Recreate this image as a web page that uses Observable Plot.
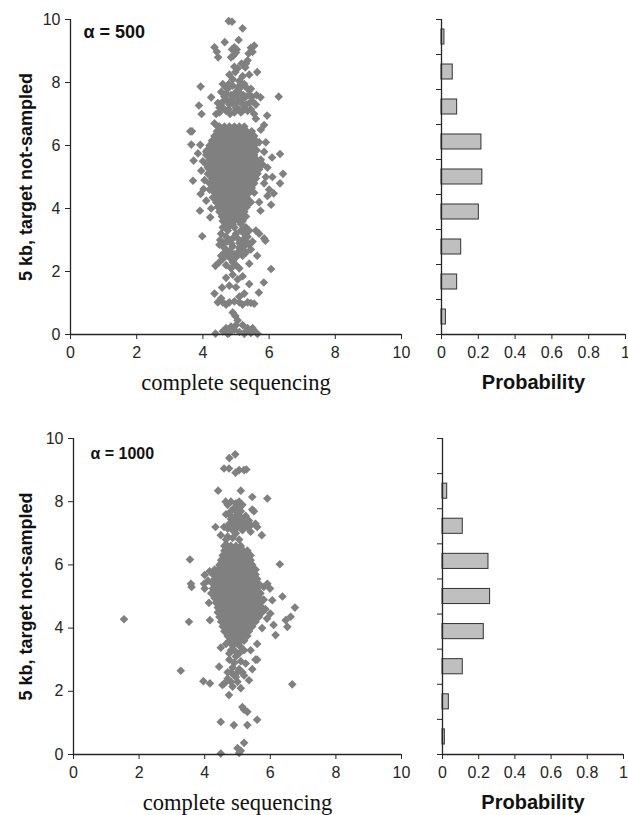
<!DOCTYPE html>
<html>
<head>
<meta charset="utf-8">
<script src="https://cdn.jsdelivr.net/npm/d3@7"></script>
<script src="https://cdn.jsdelivr.net/npm/@observablehq/plot@0.6"></script>
<style>
  body { margin: 0; background: #fff; }
  #wrap { position: relative; width: 628px; height: 815px; background: #fff; overflow: hidden; }
  #wrap > svg { position: absolute; }
</style>
</head>
<body>
<div id="wrap"></div>
<script>
// ---------- DATA ----------
const panelLabels = ["α = 500", "α = 1000"];
const xTitle = "complete sequencing";
const yTitle = "5 kb, target not-sampled";
const histTitle = "Probability";
const scatterTicks = [0, 2, 4, 6, 8, 10];
const probTicks = [0, 0.2, 0.4, 0.6, 0.8, 1];
const binEdges = [0, 1, 2, 3, 4, 5, 6, 7, 8, 9];

// histogram probabilities, listed top bar to bottom bar
const prob500 = [0.016, 0.061, 0.085, 0.217, 0.222, 0.203, 0.107, 0.085, 0.024];
const prob1000 = [0, 0.026, 0.112, 0.254, 0.263, 0.228, 0.112, 0.035, 0.013];

// alpha = 500: scattered points [x, y]
const sparse500 = [
  [4.78,9.95],[4.88,9.93],[5.2,9.72],[5.08,9.35],[4.66,9.28],[4.35,9.12],[4.42,8.98],[4.46,8.8],
  [4.88,9.05],[4.95,9.12],[5.0,8.95],[4.92,8.85],[5.02,9.05],[5.38,8.92],[5.5,8.97],[5.55,9.17],
  [5.45,9.1],[5.35,8.7],[4.85,8.8],[4.98,8.33],[5.05,8.45],[5.17,8.6],[5.3,8.6],[5.28,8.48],
  [5.2,8.2],[5.4,8.25],[5.64,8.33],[4.9,8.1],[5.1,8.05],[4.95,8.5],[4.8,8.25],
  [3.93,7.87],[4.25,7.53],[3.88,7.27],[3.96,7.0],[6.29,7.55],[5.74,7.53],[4.6,7.95],[4.75,7.8],
  [4.85,7.6],[4.9,7.9],[5.0,7.7],[5.1,7.5],[5.2,7.3],[5.3,7.55],[5.4,7.6],[5.5,7.4],[4.55,7.35],
  [4.7,7.1],[4.8,7.3],[4.5,7.05],[4.65,7.55],[5.0,7.2],[5.15,7.85],[5.35,7.1],[5.55,7.0],[5.6,7.3],
  [4.4,7.0],[4.45,7.35],[5.25,7.95],[5.45,7.8],[4.95,7.05],[5.62,7.6],[4.72,7.45],[5.05,7.4],
  [5.25,7.15],[4.6,7.2],[4.9,7.35],[5.4,7.35],[5.15,7.05],[4.82,7.0],
  [4.55,7.7],[4.68,7.85],[4.78,7.95],[4.95,7.6],[5.05,7.85],[5.12,7.65],[5.22,7.6],[5.35,7.8],
  [5.48,7.55],[4.62,7.4],[4.78,7.15],[4.88,7.45],[5.08,7.15],[5.18,7.45],[5.3,7.3],[5.45,7.15],
  [4.5,7.2],[4.7,7.65],
  [5.94,6.95],[5.6,6.85],[4.35,6.7],[4.45,6.6],[5.85,6.65],
  [3.62,6.45],[3.67,6.45],[3.65,6.03],[3.72,5.52],[3.7,4.88],[3.93,4.46],[3.91,3.93],[3.98,3.12],
  [4.22,3.72],[3.92,6.02],[4.0,5.5],[4.1,5.8],[4.15,5.3],[4.05,4.9],[4.2,4.6],[3.95,5.2],[4.1,4.25],
  [4.25,4.0],[4.02,4.62],[3.85,5.75],
  [6.33,5.73],[6.42,5.1],[6.33,4.8],[6.14,4.48],[6.09,5.62],[6.06,4.12],[5.74,3.93],[5.89,2.98],
  [5.64,2.5],[6.06,2.08],[5.84,1.65],[5.69,1.33],[5.95,5.3],[5.9,5.0],[5.85,4.8],[5.8,5.4],[6.0,4.6],
  [5.75,6.5],[5.9,6.1],[5.7,6.1],[5.85,5.8],[5.7,4.2],[5.6,3.3],[5.7,3.2],[5.85,3.05],[6.1,5.0],[5.95,4.4],
  [4.38,2.18],[4.5,2.3],[4.6,2.4],[4.75,2.5],[4.9,2.3],[5.0,2.2],[5.2,2.5],[5.4,2.25],[5.3,2.6],
  [4.6,2.9],[4.7,3.1],[4.8,3.0],[4.9,2.8],[5.0,3.2],[5.1,2.9],[5.2,3.0],[5.35,3.1],[5.5,2.95],
  [4.55,3.2],[4.65,2.6],[4.8,2.65],[5.05,2.6],[4.95,3.4],[5.15,3.3],[5.3,3.4],[4.5,2.85],[5.45,2.7],
  [5.1,2.1],[4.85,2.1],[4.7,2.2],[5.25,2.8],[4.6,3.4],[4.75,3.3],[5.4,3.3],[4.9,3.05],[5.0,2.45],
  [4.55,2.5],[4.65,2.75],[4.72,2.95],[4.85,2.9],[4.95,2.55],[5.1,2.75],[5.2,2.7],[5.3,2.95],
  [4.8,3.45],[5.05,3.05],[5.15,3.5],[4.68,3.55],[4.9,3.5],[4.52,3.0],[5.4,2.85],[5.25,3.2],[4.85,2.4],
  [4.35,1.3],[4.58,1.49],[4.7,1.8],[4.9,1.9],[5.2,1.85],[5.4,1.6],[5.0,1.5],[5.1,1.2],[5.25,1.3],
  [4.8,1.55],[5.45,1.0],[4.45,1.02],[4.6,1.02],[4.8,1.02],[5.1,1.02],[5.35,1.02],[4.95,1.05],
  [5.55,0.98],[4.7,0.95],[5.2,0.95],[5.05,1.75],[4.55,1.15],
  [4.38,0.03],[4.6,0.1],[4.8,0.05],[4.95,0.15],[5.1,0.08],[5.3,0.1],[5.45,0.05],[5.65,0.02],
  [5.0,0.3],[4.85,0.25],[5.2,0.3],[5.35,0.2],[4.98,0.59],[4.9,0.7],[4.7,0.2],[5.5,0.2],[5.05,0.45],
  [4.75,0.02],[5.25,0.02],[5.55,0.12]
];
// alpha = 500: dense core, rows of [y, x values]
const core500 = [
  [6.6, [4.5,4.65,4.8,4.95,5.1,5.25]],
  [6.45,[4.425,4.575,4.725,4.875,5.025,5.175,5.325,5.475]],
  [6.3, [4.35,4.5,4.65,4.8,4.95,5.1,5.25,5.4,5.55]],
  [6.15,[4.275,4.425,4.575,4.725,4.875,5.025,5.175,5.325,5.475,5.6]],
  [6.0, [4.2,4.35,4.5,4.65,4.8,4.95,5.1,5.25,5.4,5.55]],
  [5.85,[4.125,4.275,4.425,4.575,4.725,4.875,5.025,5.175,5.325,5.475,5.625]],
  [5.7, [4.1,4.2,4.35,4.5,4.65,4.8,4.95,5.1,5.25,5.4,5.55]],
  [5.55,[4.2,4.275,4.425,4.575,4.725,4.875,5.025,5.175,5.325,5.475,5.625,5.75]],
  [5.4, [4.1,4.2,4.35,4.5,4.65,4.8,4.95,5.1,5.25,5.4,5.55,5.65]],
  [5.25,[4.2,4.275,4.425,4.575,4.725,4.875,5.025,5.175,5.325,5.475,5.625,5.7]],
  [5.1, [4.15,4.2,4.35,4.5,4.65,4.8,4.95,5.1,5.25,5.4,5.55,5.65]],
  [4.95,[4.275,4.425,4.575,4.725,4.875,5.025,5.175,5.325,5.475,5.6]],
  [4.8, [4.2,4.35,4.5,4.65,4.8,4.95,5.1,5.25,5.4,5.55]],
  [4.65,[4.3,4.425,4.575,4.725,4.875,5.025,5.175,5.325,5.475]],
  [4.5, [4.35,4.5,4.65,4.8,4.95,5.1,5.25,5.4,5.55]],
  [4.35,[4.3,4.425,4.575,4.725,4.875,5.025,5.175,5.325]],
  [4.2, [4.4,4.5,4.65,4.8,4.95,5.1,5.25,5.4,5.45]],
  [4.05,[4.45,4.575,4.725,4.875,5.025,5.175,5.325]],
  [3.9, [4.5,4.65,4.8,4.95,5.1,5.25]],
  [3.75,[4.575,4.725,4.875,5.025,5.175,5.3]],
  [3.6, [4.6,4.65,4.8,4.95,5.1,5.2]]
];

// alpha = 1000: scattered points [x, y]
const sparse1000 = [
  [4.75,9.38],[4.93,9.5],[4.59,9.05],[4.74,9.05],[4.94,8.92],[5.05,9.0],[5.2,9.0],[5.27,9.02],
  [4.41,8.35],[5.1,8.35],[5.45,8.15],[5.91,8.1],[4.64,8.0],[4.95,7.95],[5.05,8.0],[5.0,7.85],
  [5.45,7.75],[5.5,7.7],[4.33,7.2],[4.59,7.2],[5.74,6.94],[5.6,7.2],[5.55,7.3],[5.3,7.2],[5.4,7.05],
  [4.49,6.94],[4.7,6.9],
  [4.7,7.9],[4.8,7.7],[4.9,7.5],[5.0,7.6],[5.1,7.4],[4.75,7.3],[4.85,7.1],[5.0,7.2],[5.15,7.1],
  [5.2,7.5],[4.65,7.6],[4.9,7.8],[5.05,7.3],[4.95,7.0],[5.25,7.3],[4.8,7.45],[5.1,7.7],[4.7,7.15],
  [5.35,7.4],[4.85,6.85],[5.05,6.8],[4.6,6.6],[4.65,6.8],
  [4.75,7.6],[4.95,7.4],[5.15,7.25],[5.25,7.55],[4.85,7.25],[5.05,7.55],[5.4,7.25],[4.95,7.7],
  [5.15,7.9],[4.8,8.0],
  [3.55,6.17],[3.58,5.4],[3.6,5.3],[3.52,4.2],[3.98,5.4],[4.0,5.25],[4.13,4.8],[4.16,4.25],
  [4.0,5.68],[4.15,5.8],[4.25,5.7],[4.2,5.1],[4.1,5.5],[1.54,4.28],[3.27,2.65],[3.96,2.32],
  [4.16,2.25],[4.3,5.85],[4.35,5.2],
  [6.29,6.02],[5.91,5.4],[5.99,5.25],[6.06,4.88],[6.0,4.46],[6.37,5.0],[6.47,4.25],[6.52,4.04],
  [6.62,4.36],[6.75,4.65],[6.16,3.78],[6.67,2.22],[5.8,5.3],[5.85,4.6],[5.9,4.3],[5.75,4.0],
  [5.6,3.5],[5.55,3.0],[5.6,3.0],[5.4,3.3],[5.45,2.7],[5.8,4.9],[5.7,5.1],[6.1,4.1],
  [4.49,3.38],[4.44,2.78],[4.54,2.2],[4.74,1.88],[5.1,2.1],[5.35,2.35],[5.25,2.88],[4.6,2.25],
  [4.8,2.3],[4.9,2.5],[5.0,2.3],[4.7,2.6],[5.2,2.5],[4.85,2.75],[5.05,2.7],[4.75,3.0],[4.95,3.1],
  [5.1,2.95],[4.8,3.3],[5.0,3.5],[4.65,3.5],[5.2,3.3],[4.9,2.9],[5.15,2.6],[4.7,2.4],[4.85,2.15],
  [4.75,3.2],[4.9,3.3],[5.05,3.2],[4.8,2.6],[5.0,2.6],[5.1,3.4],[4.95,2.45],[4.85,3.45],
  [4.49,1.03],[4.89,0.93],[5.15,1.5],[5.2,1.42],[5.3,1.35],[5.6,1.1],[5.3,0.93],[5.0,0.2],
  [5.1,0.12],[5.2,0.37],[4.49,0.03],[5.05,0.05]
];
// alpha = 1000: dense core, rows of [y, x values]
const core1000 = [
  [6.6, [4.7,4.8,4.95,5.1]],
  [6.45,[4.6,4.725,4.875,5.025,5.175,5.3]],
  [6.3, [4.55,4.65,4.8,4.95,5.1,5.25,5.4]],
  [6.15,[4.5,4.575,4.725,4.875,5.025,5.175,5.325,5.4]],
  [6.0, [4.45,4.5,4.65,4.8,4.95,5.1,5.25,5.4,5.45]],
  [5.85,[4.4,4.425,4.575,4.725,4.875,5.025,5.175,5.325,5.475,5.55]],
  [5.7, [4.35,4.5,4.65,4.8,4.95,5.1,5.25,5.4,5.55]],
  [5.55,[4.3,4.425,4.575,4.725,4.875,5.025,5.175,5.325,5.475,5.6]],
  [5.4, [4.25,4.35,4.5,4.65,4.8,4.95,5.1,5.25,5.4,5.55,5.65]],
  [5.25,[4.25,4.275,4.425,4.575,4.725,4.875,5.025,5.175,5.325,5.475,5.6]],
  [5.1, [4.3,4.35,4.5,4.65,4.8,4.95,5.1,5.25,5.4,5.55,5.65]],
  [4.95,[4.3,4.425,4.575,4.725,4.875,5.025,5.175,5.325,5.475,5.625,5.67]],
  [4.8, [4.35,4.5,4.65,4.8,4.95,5.1,5.25,5.4,5.55,5.7]],
  [4.65,[4.4,4.425,4.575,4.725,4.875,5.025,5.175,5.325,5.475,5.625,5.75]],
  [4.5, [4.4,4.5,4.65,4.8,4.95,5.1,5.25,5.4,5.55,5.7,5.75]],
  [4.35,[4.45,4.575,4.725,4.875,5.025,5.175,5.325,5.475,5.625,5.65]],
  [4.2, [4.5,4.65,4.8,4.95,5.1,5.25,5.4,5.55]],
  [4.05,[4.55,4.575,4.725,4.875,5.025,5.175,5.325,5.45]],
  [3.9, [4.6,4.65,4.8,4.95,5.1,5.25,5.35]],
  [3.75,[4.7,4.725,4.875,5.025,5.175,5.3]],
  [3.6, [4.75,4.8,4.95,5.1,5.2]]
];

// ---------- BUILD ----------
const FONT = "'Liberation Sans', Arial, Helvetica, sans-serif";
const SERIF = "'Liberation Serif', 'Times New Roman', serif";
const AXIS = "#262626";

function points(sparse, core) {
  const pts = sparse.map(([x, y]) => ({x, y}));
  for (const [y, xs] of core) for (const x of xs) pts.push({x, y});
  return pts;
}

function scatter(pts, label, L) {
  return Plot.plot({
    width: 410, height: L.height,
    marginLeft: L.left, marginRight: L.right, marginTop: L.top, marginBottom: L.bottom,
    style: {fontFamily: FONT, fontSize: "16px", color: AXIS, background: "transparent", overflow: "visible"},
    x: {domain: [0, 10]},
    y: {domain: [0, 10]},
    marks: [
      Plot.dot(pts, {x: "x", y: "y", symbol: "diamond2", r: 3.9, fill: "#808080", stroke: "none"}),
      Plot.ruleX([0], {stroke: AXIS, strokeWidth: 1.3}),
      Plot.ruleY([0], {stroke: AXIS, strokeWidth: 1.3}),
      Plot.axisX({ticks: scatterTicks, tickSize: 5, tickPadding: 7, label: null, fontSize: 16, tickFormat: d => String(d)}),
      Plot.axisY({ticks: scatterTicks, tickSize: 5, tickPadding: 5, label: null, fontSize: 16, tickFormat: d => String(d)}),
      Plot.text([label], {text: d => d, frameAnchor: "top-left", dx: L.ldx, dy: L.ldy, textAnchor: "start", lineAnchor: "middle", fontWeight: "bold", fontSize: L.lfs, fill: "#111"}),
      Plot.text([xTitle], {text: d => d, frameAnchor: "bottom", dy: 48, textAnchor: "middle", lineAnchor: "middle", fontFamily: SERIF, fontSize: 22.5, fill: "#111"}),
      Plot.text([yTitle], {text: d => d, frameAnchor: "left", dx: L.ydx, rotate: -90, textAnchor: "middle", lineAnchor: "middle", fontWeight: "bold", fontSize: 18, fill: "#111"})
    ]
  });
}

function hist(probs, L) {
  const bins = probs.map((p, i) => ({p, lo: probs.length - 1 - i, hi: probs.length - i}));
  return Plot.plot({
    width: 218, height: L.height,
    marginLeft: L.left, marginRight: L.right, marginTop: L.top, marginBottom: L.bottom,
    style: {fontFamily: FONT, fontSize: "16px", color: AXIS, background: "transparent", overflow: "visible"},
    x: {domain: [0, 1]},
    y: {domain: [0, 9]},
    marks: [
      Plot.rectX(bins.filter(d => d.p > 0), {x1: 0, x2: "p", y1: "lo", y2: "hi", insetTop: 10, insetBottom: 10, fill: "#bfbfbf", stroke: "#333", strokeWidth: 1}),
      Plot.ruleX([0], {stroke: AXIS, strokeWidth: 1.3}),
      Plot.ruleY([0], {stroke: AXIS, strokeWidth: 1.3}),
      Plot.axisX({ticks: probTicks, tickSize: 5, tickPadding: 7, label: null, fontSize: 16, tickFormat: d => (d === 0 || d === 1) ? String(d) : d.toFixed(1)}),
      Plot.axisY({ticks: binEdges, tickSize: 5, tickFormat: () => "", label: null}),
      Plot.text([histTitle], {text: d => d, frameAnchor: "bottom", dy: 48, textAnchor: "middle", lineAnchor: "middle", fontWeight: "bold", fontSize: 20, fill: "#111"})
    ]
  });
}

const wrap = document.getElementById("wrap");
function place(svg, left, top) {
  svg.style.left = left + "px";
  svg.style.top = top + "px";
  wrap.appendChild(svg);
}

place(scatter(points(sparse500, core500), panelLabels[0],
  {height: 420, left: 70, right: 9, top: 19, bottom: 86, ldx: 13, ldy: 13, lfs: 18, ydx: -44}), 0, 0);
place(hist(prob500, {height: 420, left: 31, right: 3, top: 19, bottom: 86}), 410, 0);
place(scatter(points(sparse1000, core1000), panelLabels[1],
  {height: 395, left: 73, right: 9, top: 18, bottom: 61, ldx: 17, ldy: 15, lfs: 16, ydx: -47}), 0, 420);
place(hist(prob1000, {height: 395, left: 32, right: 5, top: 18, bottom: 61}), 410, 420);
</script>
</body>
</html>
